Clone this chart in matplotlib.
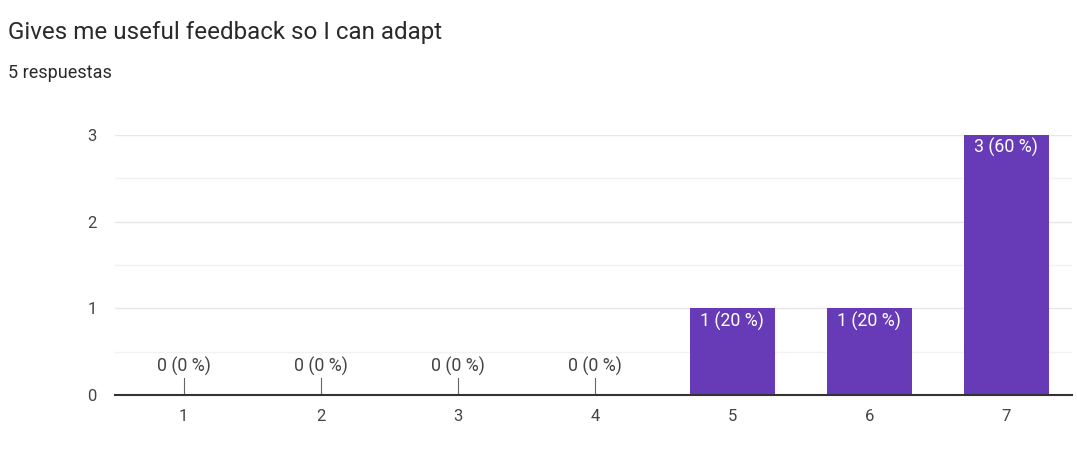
import matplotlib.pyplot as plt

plt.rcParams['font.family'] = ['Roboto', 'DejaVu Sans']

categories = ['1', '2', '3', '4', '5', '6', '7']
counts = [0, 0, 0, 0, 1, 1, 3]
total = 5
title = "Gives me useful feedback so I can adapt"
subtitle = "5 respuestas"

fig = plt.figure(figsize=(10.77, 4.70), dpi=100)
ax = fig.add_axes([0.1068, 0.1596, 0.8886, 0.5532])

x = list(range(1, len(categories) + 1))
bars = ax.bar(x, counts, width=0.62, color='#673ab7', zorder=3)

for xi, c in zip(x, counts):
    label = "%d (%d %%)" % (c, round(100 * c / total))
    if c > 0:
        ax.text(xi, c - 0.035, label, ha='center', va='top', color='white',
                fontsize=12.8, zorder=4)
    else:
        # leader line for empty categories
        ax.plot([xi, xi], [0, 0.2], color='#666666', lw=0.8, zorder=4)
        ax.text(xi, 0.22, label, ha='center', va='bottom', color='#444444',
                fontsize=12.8, zorder=4)

ax.set_xlim(0.5, 7.48)
ax.set_ylim(0, 3)
ax.set_yticks([0, 1, 2, 3])
ax.set_yticks([0.5, 1.5, 2.5], minor=True)
ax.set_xticks(x)
ax.set_xticklabels(categories)
ax.grid(axis='y', which='major', color='#e6e6e6', lw=1, zorder=0)
ax.grid(axis='y', which='minor', color='#f2f2f2', lw=1, zorder=0)
ax.tick_params(axis='both', which='both', length=0, labelsize=12,
               labelcolor='#444444')
ax.tick_params(axis='x', pad=10)
ax.tick_params(axis='y', pad=13)
for s in ['top', 'right', 'left']:
    ax.spines[s].set_visible(False)
ax.spines['bottom'].set_color('#333333')
ax.spines['bottom'].set_linewidth(1.5)
ax.spines['bottom'].set_zorder(5)

fig.text(0.0075, 0.93, title, fontsize=17.4, color='#2a2a2a', va='center')
fig.text(0.0075, 0.845, subtitle, fontsize=13, color='#2a2a2a', va='center')

fig.savefig('out.png', dpi=100, facecolor='white')
